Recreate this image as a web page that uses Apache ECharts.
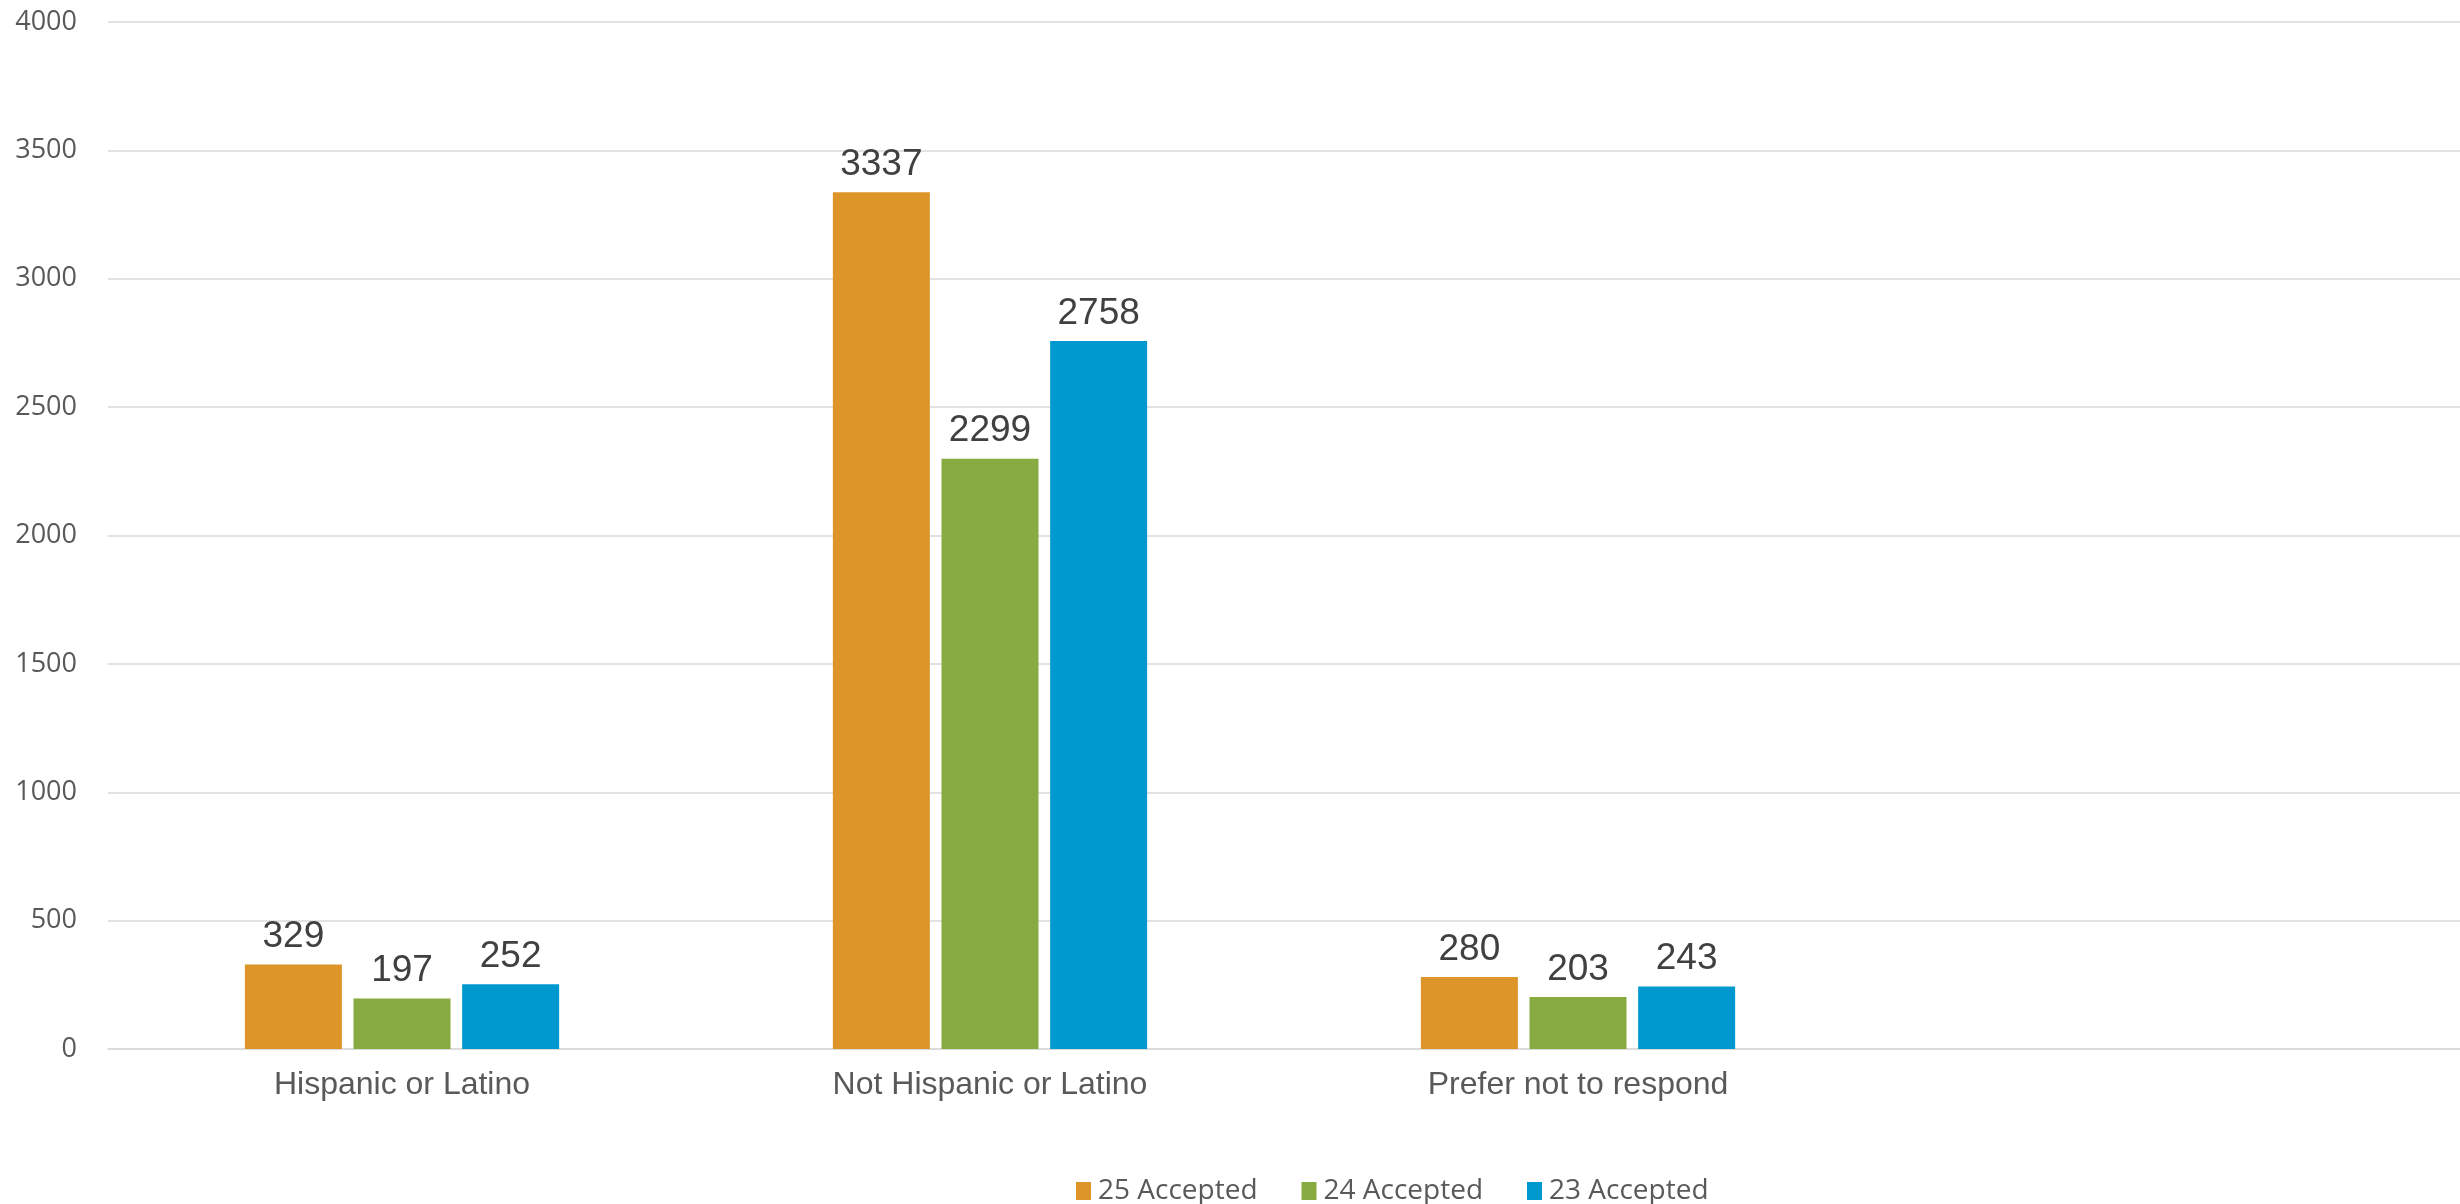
<!DOCTYPE html>
<html>
<head>
<meta charset="utf-8">
<script src="https://cdn.jsdelivr.net/npm/echarts@6/dist/echarts.min.js"></script>
<style>
html,body{margin:0;padding:0;background:#fff;}
#chart{width:2460px;height:1204px;}
</style>
</head>
<body>
<div id="chart"></div>
<script>
const categories = ['Hispanic or Latino', 'Not Hispanic or Latino', 'Prefer not to respond', ''];
const accepted25 = [329, 3337, 280, null];
const accepted24 = [197, 2299, 203, null];
const accepted23 = [252, 2758, 243, null];
const seriesNames = ['25 Accepted', '24 Accepted', '23 Accepted'];
const colors = ['#DD9429', '#88AB41', '#0099CF'];

const chart = echarts.init(document.getElementById('chart'));
const labelStyle = {
  show: true,
  position: 'top',
  distance: 9,
  fontFamily: 'Liberation Sans',
  fontSize: 37,
  color: '#404040'
};
function mk(name, data, color) {
  return {
    name: name,
    type: 'bar',
    data: data,
    barWidth: 97,
    barGap: '12%',
    itemStyle: { color: color },
    label: labelStyle,
    emphasis: { disabled: true }
  };
}
chart.setOption({
  animation: false,
  color: colors,
  grid: { left: 108, right: 0, top: 22, bottom: 155, containLabel: false },
  legend: {
    left: 1071,
    top: 1172,
    itemWidth: 15,
    itemHeight: 18,
    itemGap: 44,
    icon: 'rect',
    textStyle: { fontFamily: 'Open Sans', fontSize: 28, color: '#595959', padding: [0, 0, 0, 2] },
    data: seriesNames
  },
  xAxis: {
    type: 'category',
    data: categories,
    axisLine: { show: true, lineStyle: { color: '#D9D9D9', width: 1.5 } },
    axisTick: { show: false },
    axisLabel: { margin: 20, fontFamily: 'Liberation Sans', fontSize: 32, color: '#595959' }
  },
  yAxis: {
    type: 'value',
    min: 0,
    max: 4000,
    interval: 500,
    axisLine: { show: false },
    axisTick: { show: false },
    splitLine: { lineStyle: { color: '#D9D9D9', width: 1.5 } },
    axisLabel: {
      margin: 31,
      fontFamily: 'Open Sans',
      fontSize: 27,
      color: '#595959',
      formatter: function (v) { return String(v); }
    }
  },
  series: [
    mk(seriesNames[0], accepted25, colors[0]),
    mk(seriesNames[1], accepted24, colors[1]),
    mk(seriesNames[2], accepted23, colors[2])
  ]
});
</script>
</body>
</html>
